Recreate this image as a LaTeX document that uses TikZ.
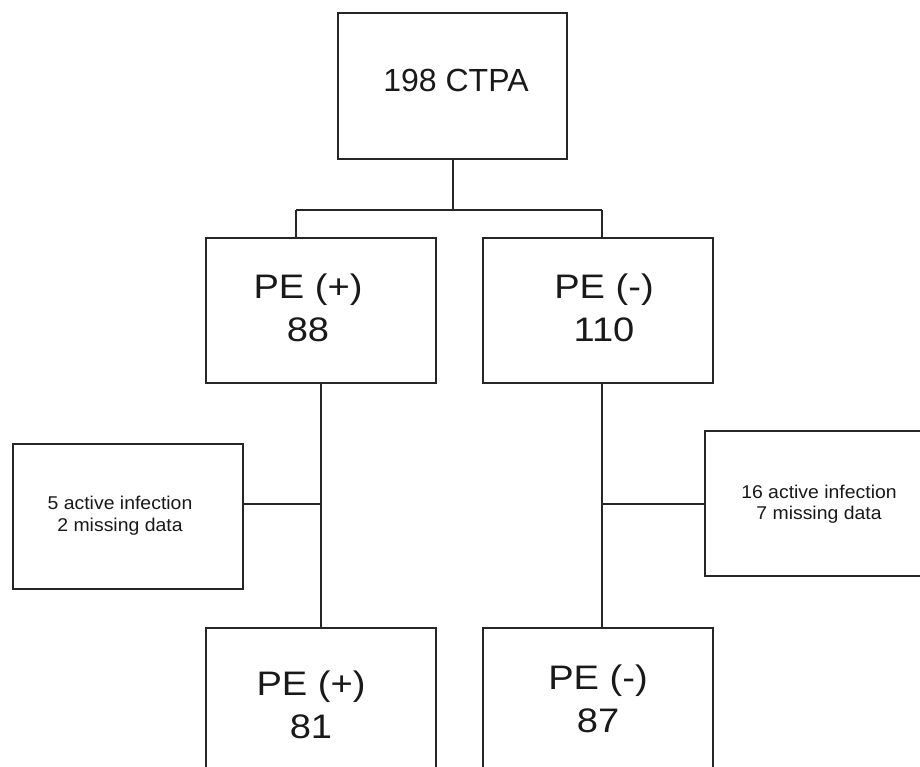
\documentclass[tikz,border=0pt]{standalone}
\usepackage{fontspec}
\setmainfont{Liberation Sans}
\newcommand{\wbig}[1]{\scalebox{1.12}[1]{#1}}
\newcommand{\wsmall}[1]{\scalebox{1.05}[1]{#1}}
\begin{document}
\begin{tikzpicture}[x=1pt,y=-1pt,
  box/.style={draw=black!85,line width=1.3pt,fill=none,inner sep=0pt,rectangle},
  link/.style={draw=black!85,line width=1.3pt},
  bigtxt/.style={anchor=base,inner sep=0pt,font=\fontsize{34}{40}\selectfont,text=black!90},
  toptxt/.style={anchor=base,inner sep=0pt,font=\fontsize{32}{38}\selectfont,text=black!90},
  smalltxt/.style={anchor=base,inner sep=0pt,font=\fontsize{18.5}{22}\selectfont,text=black!90}]
\useasboundingbox[fill=white] (0,0) rectangle (920,767);
% boxes
\node[box,minimum width=229pt,minimum height=146pt] (top) at (452.5,86) {};
\node[box,minimum width=230pt,minimum height=145pt] (pp) at (321,310.5) {};
\node[box,minimum width=230pt,minimum height=145pt] (pn) at (598,310.5) {};
\node[box,minimum width=230pt,minimum height=145pt] (exl) at (128,516.5) {};
\node[box,minimum width=240pt,minimum height=145pt] (exr) at (825,503.5) {};
\node[box,minimum width=230pt,minimum height=170pt] (bp) at (321,713) {};
\node[box,minimum width=230pt,minimum height=170pt] (bn) at (598,713) {};
% texts
\node[toptxt] (t0) at (456,92) {198 CTPA};
\node[bigtxt] (pp1) at (308,298) {\wbig{PE (+)}};
\node[bigtxt] (pp2) at (308,341) {\wbig{88}};
\node[bigtxt] (pn1) at (604,298) {\wbig{PE (-)}};
\node[bigtxt] (pn2) at (604,341) {\wbig{110}};
\node[bigtxt] (bp1) at (311,695) {\wbig{PE (+)}};
\node[bigtxt] (bp2) at (311,738) {\wbig{81}};
\node[bigtxt] (bn1) at (598,689) {\wbig{PE (-)}};
\node[bigtxt] (bn2) at (598,732) {\wbig{87}};
\node[smalltxt] (el1) at (120,509) {\wsmall{5 active infection}};
\node[smalltxt] (el2) at (120,531) {\wsmall{2 missing data}};
\node[smalltxt] (er1) at (819,498) {\wsmall{16 active infection}};
\node[smalltxt] (er2) at (819,519) {\wsmall{7 missing data}};
% connectors
\coordinate (j0) at (453,210);
\coordinate (jl) at (296,210);
\coordinate (jr) at (602,210);
\coordinate (ml) at (321,504);
\coordinate (mr) at (602,504);
\draw[link] (top.south -| j0) -- (j0);
\draw[link] (jl) -- (jr);
\draw[link] (jl) -- (jl |- pp.north);
\draw[link] (jr) -- (jr |- pn.north);
\draw[link] (pp.south) -- (bp.north);
\draw[link] (mr |- pn.south) -- (mr |- bn.north);
\draw[link] (exl.east |- ml) -- (ml);
\draw[link] (mr) -- (exr.west |- mr);
\end{tikzpicture}
\end{document}
